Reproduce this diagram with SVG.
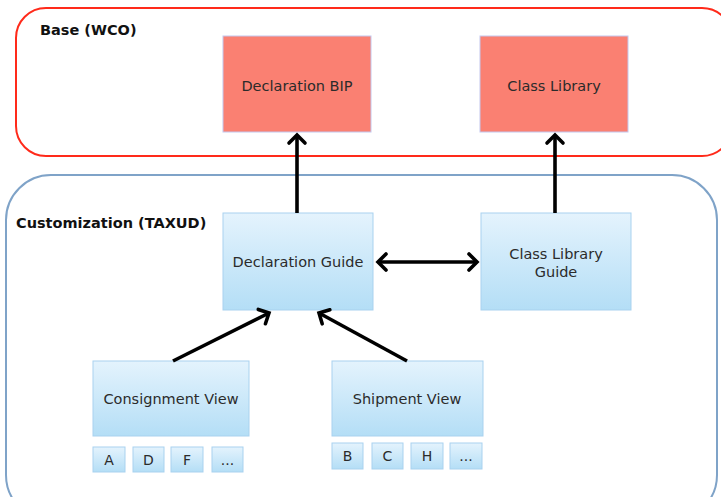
<svg xmlns="http://www.w3.org/2000/svg" width="721" height="497" viewBox="0 0 721 497">
<defs>
<linearGradient id="blueGrad" x1="0" y1="0" x2="0" y2="1">
<stop offset="0" stop-color="#e4f3fd"/>
<stop offset="1" stop-color="#b4def6"/>
</linearGradient>
<marker id="head" viewBox="-12 -12 24 24" markerWidth="24" markerHeight="24" refX="0" refY="0" markerUnits="userSpaceOnUse" orient="auto-start-reverse">
<path d="M-8,-8 L0,0 L-8,8" fill="none" stroke="#000" stroke-width="3.6" stroke-linecap="round" stroke-linejoin="miter"/>
</marker>
</defs>
<style>
.base{fill:#ffffff;stroke:#ff2a1a;stroke-width:2}
.cust{fill:#ffffff;stroke:#7fa3c8;stroke-width:2}
.red{fill:#fa8072;stroke:#c4c8ee;stroke-width:1}
.blue{fill:url(#blueGrad);stroke:#a9d2ef;stroke-width:1}
.lbl{font-family:"DejaVu Sans",Verdana,sans-serif;font-size:14.5px;fill:#2b2b2b;text-anchor:middle}
.sm{font-size:14px}
.title{font-family:"DejaVu Sans",Verdana,sans-serif;font-size:14.5px;font-weight:bold;fill:#111}
.conn{fill:none;stroke:#000;stroke-width:3.6;marker-end:url(#head)}
</style>
<rect width="721" height="497" fill="#ffffff"/>
<g id="base-wco">
<rect class="base" x="16" y="8" width="716" height="148" rx="30" ry="30"/>
<text class="title" x="40" y="35">Base (WCO)</text>
</g>
<g id="customization-taxud">
<rect class="cust" x="6" y="175" width="711" height="345" rx="45" ry="45"/>
<text class="title" x="16" y="228">Customization (TAXUD)</text>
</g>
<g id="declaration-bip">
<rect class="red" x="223" y="36" width="148" height="96"/>
<text class="lbl" x="297" y="91">Declaration BIP</text>
</g>
<g id="class-library">
<rect class="red" x="480" y="36" width="148" height="96"/>
<text class="lbl" x="554" y="91">Class Library</text>
</g>
<g id="declaration-guide">
<rect class="blue" x="223" y="213" width="150" height="97"/>
<text class="lbl" x="298" y="267">Declaration Guide</text>
</g>
<g id="class-library-guide">
<rect class="blue" x="481" y="213" width="150" height="97"/>
<text class="lbl" x="556" y="259">Class Library</text>
<text class="lbl" x="556" y="277">Guide</text>
</g>
<g id="consignment-view">
<rect class="blue" x="93" y="361" width="156" height="75"/>
<text class="lbl" x="171" y="404">Consignment View</text>
</g>
<g id="shipment-view">
<rect class="blue" x="332" y="361" width="151" height="75"/>
<text class="lbl" x="407" y="404">Shipment View</text>
</g>
<g id="item-a"><rect class="blue" x="93" y="447" width="32" height="25"/><text class="lbl sm" x="109" y="465">A</text></g>
<g id="item-d"><rect class="blue" x="133" y="447" width="31" height="25"/><text class="lbl sm" x="148.5" y="465">D</text></g>
<g id="item-f"><rect class="blue" x="171" y="447" width="32" height="25"/><text class="lbl sm" x="187" y="465">F</text></g>
<g id="item-more1"><rect class="blue" x="212" y="447" width="31" height="25"/><text class="lbl sm" x="227.5" y="465">...</text></g>
<g id="item-b"><rect class="blue" x="332" y="443" width="31" height="26"/><text class="lbl sm" x="347.5" y="461">B</text></g>
<g id="item-c"><rect class="blue" x="372" y="443" width="31" height="26"/><text class="lbl sm" x="387.5" y="461">C</text></g>
<g id="item-h"><rect class="blue" x="411" y="443" width="32" height="26"/><text class="lbl sm" x="427" y="461">H</text></g>
<g id="item-more2"><rect class="blue" x="450" y="443" width="32" height="26"/><text class="lbl sm" x="466" y="461">...</text></g>
<g id="connectors">
<line class="conn" x1="297" y1="213" x2="297" y2="135"/>
<line class="conn" x1="555" y1="213" x2="555" y2="135"/>
<line class="conn" x1="378" y1="262" x2="477" y2="262" style="marker-start:url(#head)"/>
<line class="conn" x1="173" y1="361" x2="269" y2="313"/>
<line class="conn" x1="407" y1="361" x2="319" y2="313"/>
</g>
</svg>
